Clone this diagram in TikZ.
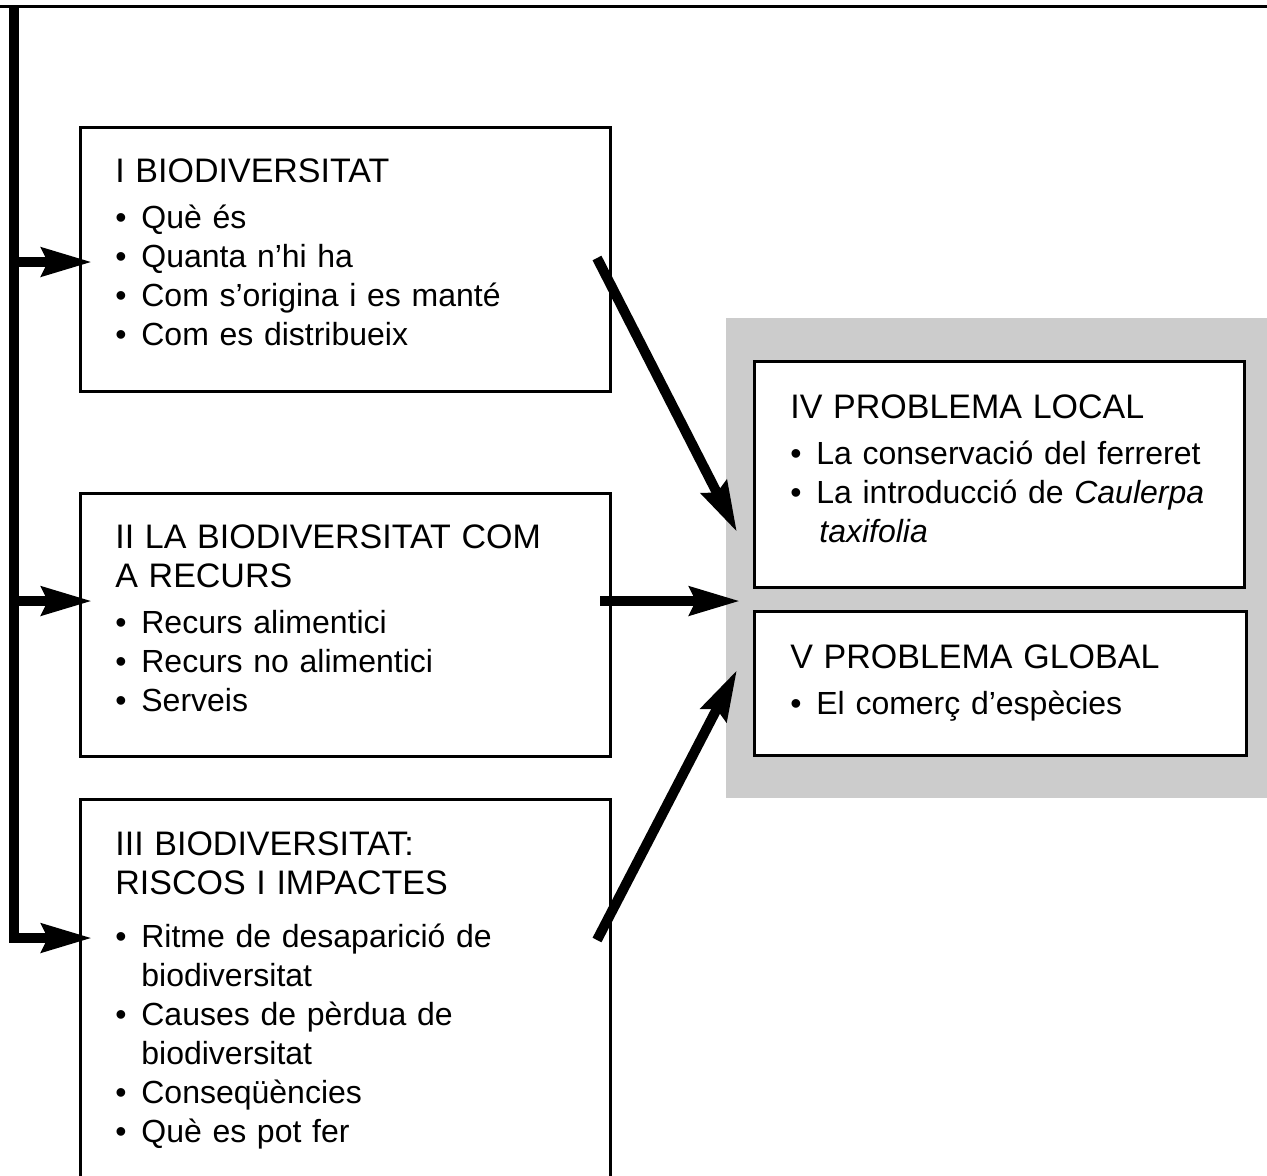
\documentclass[tikz,border=0pt]{standalone}
\usepackage{fontspec}
\setmainfont{Liberation Sans}
\usepackage{tikz}
\usetikzlibrary{arrows.meta, positioning}

\tikzset{
  box/.style={draw, line width=1.3pt, fill=white, anchor=north west, inner sep=0pt},
  boxtext/.style={anchor=north west, inner sep=0pt, text width=250pt, align=left,
    font=\fontsize{16}{19.5}\selectfont},
  bigarrow/.style={line width=5pt, -{Stealth[length=25pt, width=14pt, inset=3pt]}}
}
\newcommand{\btitle}[2][3.5pt]{\noindent{\fontsize{17}{19.5}\selectfont #2\par}\vspace{#1}}
\newcommand{\bitem}[1]{\par\noindent\hangindent=13pt\hangafter=1\makebox[13pt][l]{\textbullet}#1}

\begin{document}
\begin{tikzpicture}[x=0.5pt, y=-0.5pt]
\useasboundingbox (0,0) rectangle (1267,1175);
\clip (0,0) rectangle (1267,1175);
\fill[black!20] (726,318) rectangle (1267,798);
\draw[line width=1.5pt] (0,6) -- (1267,6);

\node[box, minimum width=265pt, minimum height=132pt] (bioI) at (79,126) {};
\node[box, minimum width=265pt, minimum height=131.5pt] (bioII) at (79,492) {};
\node[box, minimum width=265pt, minimum height=210pt] (bioIII) at (79,798) {};
\node[box, minimum width=245pt, minimum height=113pt] (probIV) at (753,360) {};
\node[box, minimum width=246pt, minimum height=72pt] (probV) at (753,610) {};

\node[boxtext, below right=16pt and 18pt of bioI.north west] (txtI)
  {\btitle{I BIODIVERSITAT}\bitem{Què és}\bitem{Quanta n’hi ha}%
   \bitem{Com s’origina i es manté}\bitem{Com es distribueix}\par};
\node[boxtext, below right=16pt and 18pt of bioII.north west] (txtII)
  {\btitle{II LA BIODIVERSITAT COM\newline A RECURS}\bitem{Recurs alimentici}%
   \bitem{Recurs no alimentici}\bitem{Serveis}\par};
\node[boxtext, below right=16.5pt and 18pt of bioIII.north west] (txtIII)
  {\btitle[7pt]{III BIODIVERSITAT:\newline RISCOS I IMPACTES}%
   \bitem{Ritme de desaparició de\newline biodiversitat}%
   \bitem{Causes de pèrdua de\newline biodiversitat}%
   \bitem{Conseqüències}\bitem{Què es pot fer}\par};
\node[boxtext, below right=17pt and 18.5pt of probIV.north west] (txtIV)
  {\btitle{IV PROBLEMA LOCAL}\bitem{La conservació del ferreret}%
   \bitem{La introducció de \textit{Caulerpa}\newline\hspace*{1.5pt}\textit{taxifolia}}\par};
\node[boxtext, below right=17pt and 18.5pt of probV.north west] (txtV)
  {\btitle{V PROBLEMA GLOBAL}\bitem{El comerç d’espècies}\par};

\coordinate (barTop) at (14,6);
\coordinate (forkI) at (14,262);
\coordinate (forkII) at (14,601);
\coordinate (tipI) at (92,262);
\coordinate (tipII) at (92,601);
\coordinate (tipIII) at (92,938);
\draw[bigarrow] (barTop) |- (tipIII);
\draw[bigarrow] (forkI) -- (tipI);
\draw[bigarrow] (forkII) -- (tipII);

\coordinate (outI) at (597,258);
\coordinate (inIV) at (737,532);
\coordinate (outII) at (600,601);
\coordinate (gapIV) at (740,601);
\coordinate (outIII) at (597,940);
\coordinate (inV) at (737,670);
\draw[bigarrow] (outI) -- (inIV);
\draw[bigarrow] (outII) -- (gapIV);
\draw[bigarrow] (outIII) -- (inV);
\end{tikzpicture}
\end{document}
